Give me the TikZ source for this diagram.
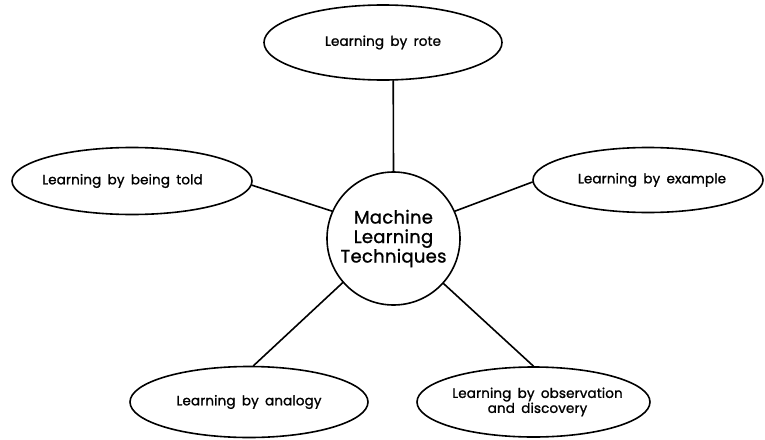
\documentclass[tikz,border=0pt]{standalone}
\usepackage{fontspec}
\setmainfont{Poppins}
\newfontfamily\labelfont{Poppins}[LetterSpace=1, WordSpace=1.7, FakeBold=1.2]
\newfontfamily\hubfont{Poppins}[LetterSpace=1.5, FakeBold=1.2]
\usetikzlibrary{shapes.geometric}
\begin{document}
\begin{tikzpicture}[x=1pt,y=-1pt,
  link/.style={line width=1.6pt, line cap=round},
  topic/.style={ellipse, draw, line width=1.6pt, inner sep=0pt,
    font=\labelfont\fontsize{13.5pt}{15pt}\selectfont, align=center},
  hub/.style={circle, draw, line width=1.6pt, inner sep=0pt,
    minimum size=133pt, font=\hubfont\fontsize{18pt}{19.5pt}\selectfont, align=center}]
  \useasboundingbox (0,0) rectangle (765,439);
  % central concept
  \node[hub] (c) at (393.5,238.5) {Machine\\Learning\\Techniques};
  % techniques around it (zero-width boxes keep the ellipse size fixed while the text is nudged)
  \node[topic, minimum width=238pt, minimum height=75pt] (rote) at (383,42.5) {Learning by rote};
  \node[topic, minimum width=240pt, minimum height=67pt] (told) at (132,181) {\makebox[0pt]{Learning by being told\hspace*{19pt}}};
  \node[topic, minimum width=230pt, minimum height=65pt] (example) at (648,180) {\makebox[0pt]{\hspace*{8pt}Learning by example}};
  \node[topic, minimum width=238pt, minimum height=71pt] (analogy) at (249,402) {Learning by analogy};
  \node[topic, minimum width=233pt, minimum height=70pt] (obs) at (533.5,402) {\makebox[0pt]{\hspace*{8pt}Learning by observation}\\\makebox[0pt]{\hspace*{8pt}and discovery}};
  % spokes
  \draw[link] (c.90) -- (rote.-75);
  \draw[link] (c.156) -- (told.-2);
  \draw[link] (c.24) -- (example.181.5);
  \draw[link] (c.221) -- (analogy.83);
  \draw[link] (c.-42) -- (obs.90);
\end{tikzpicture}
\end{document}
